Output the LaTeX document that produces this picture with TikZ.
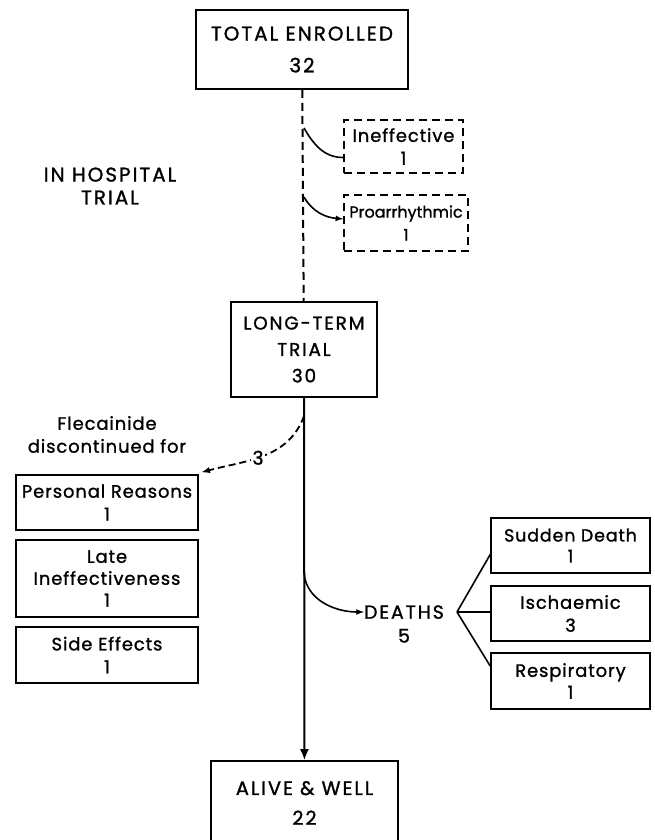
\documentclass[tikz,border=0pt]{standalone}
\usepackage{fontspec}
\setmainfont{Poppins}[FakeBold=1.2]
\newfontfamily\capsfont{Poppins}[LetterSpace=10,FakeBold=1.2]
\newfontfamily\lowfont{Poppins}[LetterSpace=5,FakeBold=1.2]
\usepackage{tikz}
\usetikzlibrary{arrows,arrows.meta}

\begin{document}
\begin{tikzpicture}[>=latex,
  box/.style={draw,line width=1.6bp,align=center,inner sep=0pt,font=\lowfont\fontsize{18}{23}\selectfont},
  dbox/.style={box,dash pattern=on 8bp off 5bp},
  lbl/.style={align=center,inner sep=0pt,font=\lowfont\fontsize{18}{23}\selectfont}]

\useasboundingbox (0bp,0bp) rectangle (655bp,-840bp);

\node (total) at (302bp,-49.5bp)[box,minimum width=212bp,minimum height=79bp,font=\capsfont\fontsize{20}{32}\selectfont] {TOTAL ENROLLED\\32};
\node (ineff) at (403.5bp,-146.5bp)[dbox,minimum width=119bp,minimum height=53bp] {Ineffective\\1};
\node (proarr) at (406bp,-223bp)[dbox,minimum width=124bp,minimum height=56bp,font=\fontsize{16}{23}\selectfont] {Proarrhythmic\\1};
\node (hosp) at (110bp,-186bp)[lbl,font=\capsfont\fontsize{20}{23}\selectfont] {IN HOSPITAL\\TRIAL};
\node (long) at (304bp,-349.5bp)[box,minimum width=146bp,minimum height=95bp,font=\capsfont\fontsize{18.5}{26.5}\selectfont] {LONG-TERM\\TRIAL\\30};
\node (flec) at (107bp,-434.5bp)[lbl] {Flecainide\\discontinued for};
\node (pers) at (107bp,-502.5bp)[box,minimum width=182bp,minimum height=55bp] {Personal Reasons\\1};
\node (late) at (107bp,-578.5bp)[box,minimum width=182bp,minimum height=77bp,font=\lowfont\fontsize{18}{22}\selectfont] {Late\\Ineffectiveness\\1};
\node (side) at (107bp,-655bp)[box,minimum width=182bp,minimum height=56bp] {Side Effects\\1};
\node (deaths) at (404bp,-624bp)[lbl,font=\capsfont\fontsize{19}{24}\selectfont] {DEATHS\\5};
\node (sudden) at (570.5bp,-545.5bp)[box,minimum width=159bp,minimum height=55bp,font=\lowfont\fontsize{17.5}{21}\selectfont] {Sudden Death\\1};
\node (isch) at (570.5bp,-613.5bp)[box,minimum width=159bp,minimum height=55bp] {Ischaemic\\3};
\node (resp) at (570.5bp,-681bp)[box,minimum width=159bp,minimum height=56bp,font=\lowfont\fontsize{18}{22}\selectfont] {Respiratory\\1};
\node (alive) at (304.5bp,-803bp)[box,minimum width=187bp,minimum height=84bp,font=\capsfont\fontsize{19.5}{30}\selectfont] {ALIVE \& WELL\\22};

\coordinate (s1) at (304bp,-128bp);
\coordinate (s2) at (304bp,-197bp);
\coordinate (s3) at (304bp,-416bp);
\coordinate (s4) at (304bp,-573bp);
\coordinate (fan) at (457bp,-612bp);

\draw [line width=2bp,dash pattern=on 8bp off 5bp] (total) -- (long);
\draw [line width=1.6bp] (s1) to[out=-60,in=180] ([yshift=-11bp]ineff.west);
\draw [->,line width=1.6bp] (s2) to[out=-60,in=175] ([yshift=4bp]proarr.west);
\draw [-{Latex[length=11bp,width=9bp]},line width=2bp] (long) -- (alive);
\draw [->,line width=1.8bp,dash pattern=on 7bp off 4bp] (s3) to[out=250,in=15] node[pos=0.55,fill=white,inner sep=1pt,font=\lowfont\fontsize{19}{20}\selectfont] {3} ([xshift=3bp,yshift=2bp]pers.north east);
\draw [->,line width=1.6bp] (s4) to[out=-85,in=180] ([yshift=12bp]deaths.west);
\draw [line width=1.6bp] (fan) -- ([yshift=-9bp]sudden.west);
\draw [line width=1.6bp] (fan) -- ([yshift=1.5bp]isch.west);
\draw [line width=1.6bp] (fan) -- ([yshift=15bp]resp.west);
\end{tikzpicture}
\end{document}
